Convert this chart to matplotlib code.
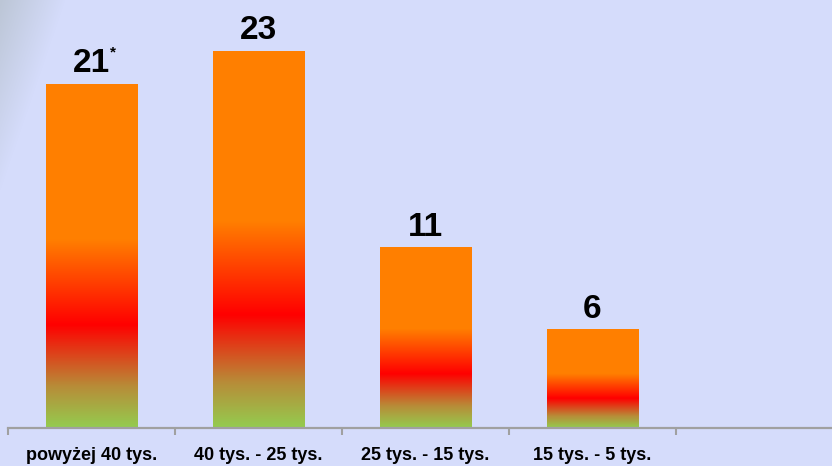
import numpy as np
import matplotlib
matplotlib.use("Agg")
import matplotlib.pyplot as plt
from matplotlib.colors import LinearSegmentedColormap

categories = ["powyżej 40 tys.", "40 tys. - 25 tys.", "25 tys. - 15 tys.", "15 tys. - 5 tys."]
values = [21, 23, 11, 6]
value_labels = ["21", "23", "11", "6"]
starred = [True, False, False, False]

W, H = 832, 466
bg = np.array([213, 220, 251]) / 255
shade = np.array([188, 198, 214]) / 255

fig = plt.figure(figsize=(W / 100, H / 100), dpi=100)
fig.patch.set_facecolor(bg)

# soft grey streak in the top-left corner
axbg = fig.add_axes([0, 0, 1, 1], zorder=0)
yy, xx = np.mgrid[0:H, 0:W]
w = np.clip(1 - xx / 65 - yy / 190, 0, 1) ** 1.0
img = bg[None, None, :] * (1 - w[..., None]) + shade[None, None, :] * w[..., None]
axbg.imshow(img, extent=(0, W, H, 0), aspect="auto")
axbg.set_axis_off()

slot = 167
ax = fig.add_axes([8 / W, 38 / H, 824 / W, 428 / H], zorder=1)
ax.patch.set_alpha(0)
ax.set_xlim(-0.5, -0.5 + 824 / slot)
ax.set_ylim(0, 428 / 16.37)

cmap = LinearSegmentedColormap.from_list(
    "bar", [(0, (0.58, 0.80, 0.31)), (0.12, (0.72, 0.55, 0.22)), (0.30, (1, 0, 0)),
            (0.55, (1, 0.5, 0)), (1, (1, 0.5, 0))])
grad = np.linspace(0, 1, 256)[:, None]
bw = 0.55
x = np.arange(len(values))
for i, v in enumerate(values):
    ax.imshow(grad, cmap=cmap, origin="lower", aspect="auto",
              extent=(x[i] - bw / 2, x[i] + bw / 2, 0, v), zorder=2)
    t = ax.annotate(value_labels[i], (x[i], v), xytext=(0, 12), textcoords="offset pixels",
                    ha="center", va="baseline", fontsize=24, fontweight="bold",
                    family="Liberation Sans", color="black", zorder=3)
    if starred[i]:
        ax.annotate("*", xy=(1, 1), xycoords=t, xytext=(0, 3), textcoords="offset pixels",
                    ha="left", va="top", fontsize=11, fontweight="bold",
                    family="Liberation Sans")

ax.set_xticks(x)
ax.set_xticklabels(categories, fontsize=13, fontweight="bold", family="Liberation Sans")
ax.set_xticks(np.arange(len(values) + 1) - 0.5, minor=True)
ax.tick_params(axis="x", which="major", length=0, pad=14)
ax.tick_params(axis="x", which="minor", length=5, width=1.5, color="#a0a0a0")
ax.set_yticks([])
for s in ["top", "right", "left"]:
    ax.spines[s].set_visible(False)
ax.spines["bottom"].set_color("#a0a0a0")
ax.spines["bottom"].set_linewidth(1.6)

fig.savefig("out.png", dpi=100, facecolor=fig.get_facecolor())
